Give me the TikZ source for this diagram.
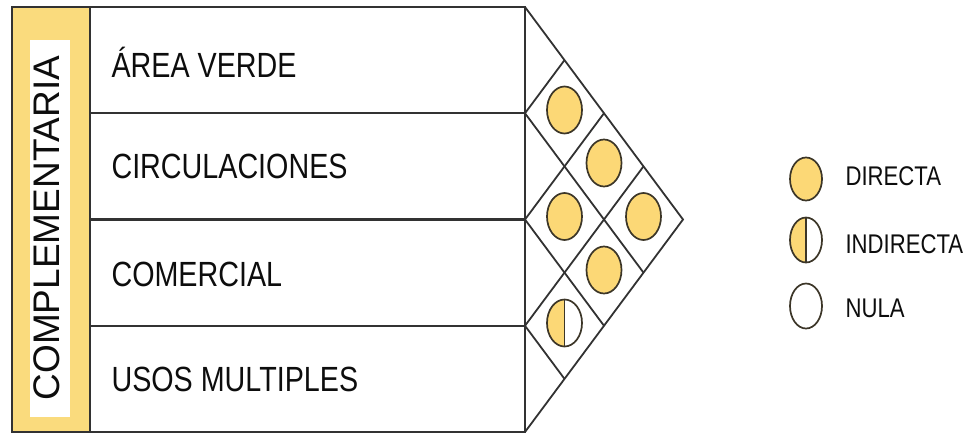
\documentclass[tikz,border=0pt]{standalone}
\usepackage{fontspec}
\setmainfont{Liberation Sans}
\newfontfamily\narrowsf[FakeStretch=0.82]{Liberation Sans}
\usetikzlibrary{positioning,shapes.geometric,calc}
\definecolor{dotyellow}{RGB}{252,216,118}
\definecolor{colyellow}{RGB}{250,219,125}
\definecolor{linegray}{RGB}{50,50,50}
\definecolor{dotline}{RGB}{60,54,40}

\begin{document}
\begin{tikzpicture}[
    x=1pt,y=-1pt,
    boxline/.style={draw=linegray,line width=2.2pt},
    gridline/.style={draw=linegray,line width=1.8pt},
    dot/.style={ellipse,draw=dotline,line width=1.7pt,fill=dotyellow,
                minimum width=35pt,minimum height=47pt,inner sep=0pt},
    halfdot/.style={dot,fill=white,path picture={
        \fill[dotyellow] (path picture bounding box.south west)
            rectangle (path picture bounding box.north);
        \draw[dotline,line width=1.7pt] (path picture bounding box.south)
            -- (path picture bounding box.north);}},
    nodot/.style={dot,fill=white},
    rowlabel/.style={anchor=base west,text=black!95,font=\narrowsf\fontsize{35}{35}\selectfont},
    keylabel/.style={anchor=base west,text=black!95,font=\narrowsf\fontsize{27}{27}\selectfont}
  ]
    \useasboundingbox (0,0) rectangle (966,434);

    % side column
    \fill[colyellow] (12,7) rectangle (90,432);
    \fill[white] (30,40) rectangle (70,417);
    \node[rotate=90,text=black!95,font=\fontsize{37}{37}\selectfont] (comp) at (47,228) {COMPLEMENTARIA};

    % rows and triangle
    \coordinate (T) at (525,7);
    \coordinate (B) at (525,432);
    \coordinate (A) at (683,219.5);
    \foreach \k in {1,2,3}{
      \coordinate (L\k) at ($(T)!\k/4!(B)$);
      \coordinate (U\k) at ($(T)!\k/4!(A)$);
      \coordinate (D\k) at ($(B)!\k/4!(A)$);
    }
    \draw[boxline] (12,7) rectangle (B);
    \draw[boxline] (90,7) -- (90,432);
    \foreach \k in {1,2,3}
      \draw[boxline] (90,0 |- L\k) -- (L\k);
    \draw[gridline] (T) -- (A) -- (B);
    \foreach \k [evaluate=\k as \m using int(4-\k)] in {1,2,3}{
      \draw[gridline] (L\k) -- (D\m);
      \draw[gridline] (L\k) -- (U\k);
    }

    \node[rowlabel] (area) at (108,77) {ÁREA VERDE};
    \node[rowlabel] (circ) at (108,178) {CIRCULACIONES};
    \node[rowlabel] (come) at (108,286) {COMERCIAL};
    \node[rowlabel] (usos) at (108,391) {USOS MULTIPLES};

    % relations
    \node[dot] (c12) at (564.5,110) {};
    \node[dot] (c13) at (604,163) {};
    \node[dot] (c14) at (643.5,216.5) {};
    \node[dot] (c23) at (564.5,216.5) {};
    \node[dot] (c24) at (604,270) {};
    \node[halfdot] (c34) at (564.5,323) {};

    % legend
    \node[dot,minimum width=32pt,minimum height=43pt] (kd) at (806,179) {};
    \node[halfdot,minimum width=32pt,minimum height=45pt] (ki) at (806,240) {};
    \node[nodot,minimum width=32pt,minimum height=45pt] (kn) at (806,306) {};
    \node[keylabel] (td) at (842,185) {DIRECTA};
    \node[keylabel] (ti) at (842,253) {INDIRECTA};
    \node[keylabel] (tn) at (842,317) {NULA};
  \end{tikzpicture}
\end{document}
